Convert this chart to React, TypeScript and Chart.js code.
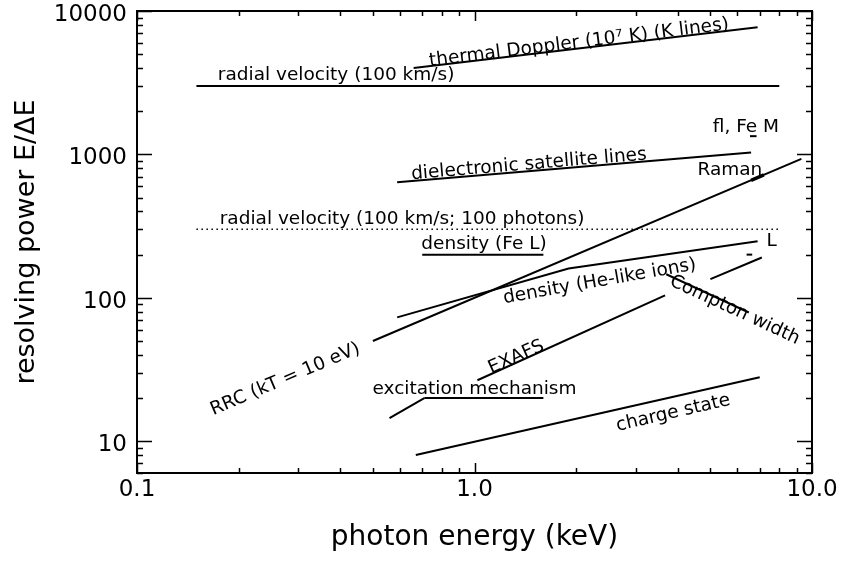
import React, { useEffect, useRef } from "react";
import { Chart, registerables } from "chart.js";

Chart.register(...registerables);

// ---- axes ----
const xMin = 0.1;
const xMax = 10;
const yMin = 6;
const yMax = 10000;
const xTickValues = [0.1, 1, 10];
const xTickLabels = ["0.1", "1.0", "10.0"];
const yTickValues = [10, 100, 1000, 10000];
const yTickLabels = ["10", "100", "1000", "10000"];

// ---- series (photon energy keV, resolving power E/ΔE) ----
const radialVelocityE = [0.15, 8.0];
const radialVelocityR = [3000, 3000];
const thermalDopplerE = [0.66, 6.9];
const thermalDopplerR = [4000, 7700];
const feMMarkE = [6.55, 6.85];
const feMMarkR = [1340, 1340];
const dielectronicE = [0.59, 6.6];
const dielectronicR = [640, 1030];
const ramanE = [6.6, 7.2];
const ramanR = [660, 720];
const rrcE = [0.5, 9.3];
const rrcR = [50, 930];
const radialVelocityPhotonsE = [0.15, 8.0];
const radialVelocityPhotonsR = [300, 300];
const densityFeLE = [0.7, 1.6];
const densityFeLR = [200, 200];
const densityHeE = [0.59, 1.9, 6.9];
const densityHeR = [73, 160, 248];
const lMarkE = [6.4, 6.65];
const lMarkR = [200, 200];
const comptonE = [3.7, 6.5];
const comptonR = [146, 79];
const exafsLowE = [0.56, 0.71];
const exafsLowR = [14.5, 20];
const exafsMidE = [1.02, 3.67];
const exafsMidR = [26.6, 104];
const exafsHighE = [5.0, 7.1];
const exafsHighR = [135, 191];
const excitationE = [0.71, 1.6];
const excitationR = [20, 20];
const chargeStateE = [0.67, 7.0];
const chargeStateR = [8.0, 27.9];

// ---- annotation texts ----
const annotations = [
  { text: "thermal Doppler (10\u2077 K) (K lines)", e: 2.04, r: 6000, angle: -7 },
  { text: "radial velocity (100 km/s)", e: 0.389, r: 3550, angle: 0 },
  { text: "fl, Fe M", e: 6.37, r: 1543, angle: 0 },
  { text: "dielectronic satellite lines", e: 1.45, r: 850, angle: -4.8 },
  { text: "Raman", e: 5.71, r: 770, angle: 0 },
  { text: "radial velocity (100 km/s; 100 photons)", e: 0.61, r: 352, angle: 0 },
  { text: "density (Fe L)", e: 1.067, r: 236, angle: 0 },
  { text: "L", e: 7.6, r: 248, angle: 0 },
  { text: "density (He-like ions)", e: 2.35, r: 130, angle: -10 },
  { text: "Compton width", e: 5.9, r: 82, angle: 25 },
  { text: "EXAFS", e: 1.33, r: 38.5, angle: -24 },
  { text: "RRC (kT = 10 eV)", e: 0.275, r: 27, angle: -23 },
  { text: "excitation mechanism", e: 1.0, r: 23.0, angle: 0 },
  { text: "charge state", e: 3.88, r: 15.7, angle: -13 },
];

const FONT = '"DejaVu Sans", sans-serif';

function pts(e: number[], r: number[]) {
  return e.map((v, i) => ({ x: v, y: r[i] }));
}

function line(label: string, e: number[], r: number[], extra: any = {}) {
  return {
    label,
    data: pts(e, r),
    showLine: true,
    borderColor: "#000",
    backgroundColor: "#000",
    borderWidth: 2,
    pointRadius: 0,
    pointHoverRadius: 0,
    tension: 0,
    ...extra,
  };
}

const framePlugin = {
  id: "frame",
  afterDraw(chart: any) {
    const { ctx, chartArea, scales } = chart;
    const { left, right, top, bottom } = chartArea;
    const xs = scales.x;
    const ys = scales.y;
    ctx.save();
    ctx.strokeStyle = "#000";
    ctx.lineWidth = 2;
    ctx.strokeRect(left, top, right - left, bottom - top);
    ctx.lineWidth = 1.5;
    ctx.beginPath();
    for (let d = 0.1; d < xMax * 0.99; d *= 10) {
      for (let m = 1; m <= 10; m++) {
        const v = d * m;
        if (v < xMin * 0.999 || v > xMax * 1.001) continue;
        const px = Math.round(xs.getPixelForValue(v)) + 0.5;
        const len = m === 1 || m === 10 ? 10 : 5;
        ctx.moveTo(px, bottom);
        ctx.lineTo(px, bottom - len);
        ctx.moveTo(px, top);
        ctx.lineTo(px, top + len);
      }
    }
    for (let d = 1; d < yMax * 0.99; d *= 10) {
      for (let m = 1; m <= 10; m++) {
        const v = d * m;
        if (v < yMin * 0.999 || v > yMax * 1.001) continue;
        const py = Math.round(ys.getPixelForValue(v)) + 0.5;
        const len = m === 1 || m === 10 ? 15 : 6;
        ctx.moveTo(left, py);
        ctx.lineTo(left + len, py);
        ctx.moveTo(right, py);
        ctx.lineTo(right - len, py);
      }
    }
    ctx.stroke();
    ctx.restore();
  },
  afterDatasetsDraw(chart: any) {
    const { ctx, scales } = chart;
    ctx.save();
    ctx.fillStyle = "#000";
    ctx.font = `18.5px ${FONT}`;
    ctx.textAlign = "center";
    ctx.textBaseline = "middle";
    for (const a of annotations) {
      const px = scales.x.getPixelForValue(a.e);
      const py = scales.y.getPixelForValue(a.r);
      ctx.save();
      ctx.translate(px, py);
      ctx.rotate((a.angle * Math.PI) / 180);
      ctx.fillText(a.text, 0, 0);
      ctx.restore();
    }
    ctx.restore();
  },
};

export default function App() {
  const ref = useRef<HTMLCanvasElement | null>(null);
  useEffect(() => {
    if (!ref.current) return;
    const chart = new Chart(ref.current, {
      type: "scatter",
      data: {
        datasets: [
          line("radial velocity (100 km/s)", radialVelocityE, radialVelocityR),
          line("thermal Doppler", thermalDopplerE, thermalDopplerR),
          line("fl, Fe M", feMMarkE, feMMarkR),
          line("dielectronic satellite lines", dielectronicE, dielectronicR),
          line("Raman", ramanE, ramanR, { borderWidth: 3.5 }),
          line("RRC (kT = 10 eV)", rrcE, rrcR),
          line("radial velocity (100 km/s; 100 photons)", radialVelocityPhotonsE, radialVelocityPhotonsR, {
            borderWidth: 1.5,
            borderDash: [1.5, 3.5],
          }),
          line("density (Fe L)", densityFeLE, densityFeLR),
          line("density (He-like ions)", densityHeE, densityHeR),
          line("L", lMarkE, lMarkR),
          line("Compton width", comptonE, comptonR),
          line("EXAFS low", exafsLowE, exafsLowR),
          line("EXAFS", exafsMidE, exafsMidR),
          line("EXAFS high", exafsHighE, exafsHighR),
          line("excitation mechanism", excitationE, excitationR),
          line("charge state", chargeStateE, chargeStateR),
        ],
      },
      options: {
        animation: false,
        responsive: true,
        maintainAspectRatio: false,
        devicePixelRatio: 1,
        events: [],
        layout: { padding: { left: 0, top: 11, right: 32, bottom: 0 } },
        plugins: {
          legend: { display: false },
          tooltip: { enabled: false },
        },
        scales: {
          x: {
            type: "logarithmic",
            position: "bottom",
            min: xMin,
            max: xMax,
            grid: { display: false, drawTicks: false },
            border: { display: false },
            afterBuildTicks: (s: any) => {
              s.ticks = xTickValues.map((v) => ({ value: v, major: true }));
            },
            afterFit: (s: any) => {
              s.height = 89;
              s.paddingLeft = 0;
              s.paddingRight = 0;
            },
            ticks: {
              autoSkip: false,
              maxRotation: 0,
              padding: 3,
              color: "#000",
              font: { family: FONT, size: 23 },
              callback: (_v: any, i: number) => xTickLabels[i],
            },
            title: {
              display: true,
              text: "photon energy (keV)",
              color: "#000",
              font: { family: FONT, size: 28 },
              padding: { top: 0, bottom: 7 },
            },
          },
          y: {
            type: "logarithmic",
            position: "left",
            min: yMin,
            max: yMax,
            grid: { display: false, drawTicks: false },
            border: { display: false },
            afterBuildTicks: (s: any) => {
              s.ticks = yTickValues.map((v) => ({ value: v, major: true }));
            },
            afterFit: (s: any) => {
              s.width = 137;
              s.paddingTop = 0;
              s.paddingBottom = 0;
            },
            ticks: {
              autoSkip: false,
              padding: 10,
              labelOffset: 4,
              color: "#000",
              font: { family: FONT, size: 23 },
              callback: (_v: any, i: number) => yTickLabels[i],
            },
            title: {
              display: true,
              text: "resolving power E/\u0394E",
              color: "#000",
              font: { family: FONT, size: 27 },
              padding: { top: 11, bottom: 0 },
            },
          },
        },
      },
      plugins: [framePlugin],
    } as any);
    return () => chart.destroy();
  }, []);

  return (
    <div style={{ position: "absolute", left: 0, top: 0, width: 844, height: 562, background: "#fff" }}>
      <canvas ref={ref} />
    </div>
  );
}
